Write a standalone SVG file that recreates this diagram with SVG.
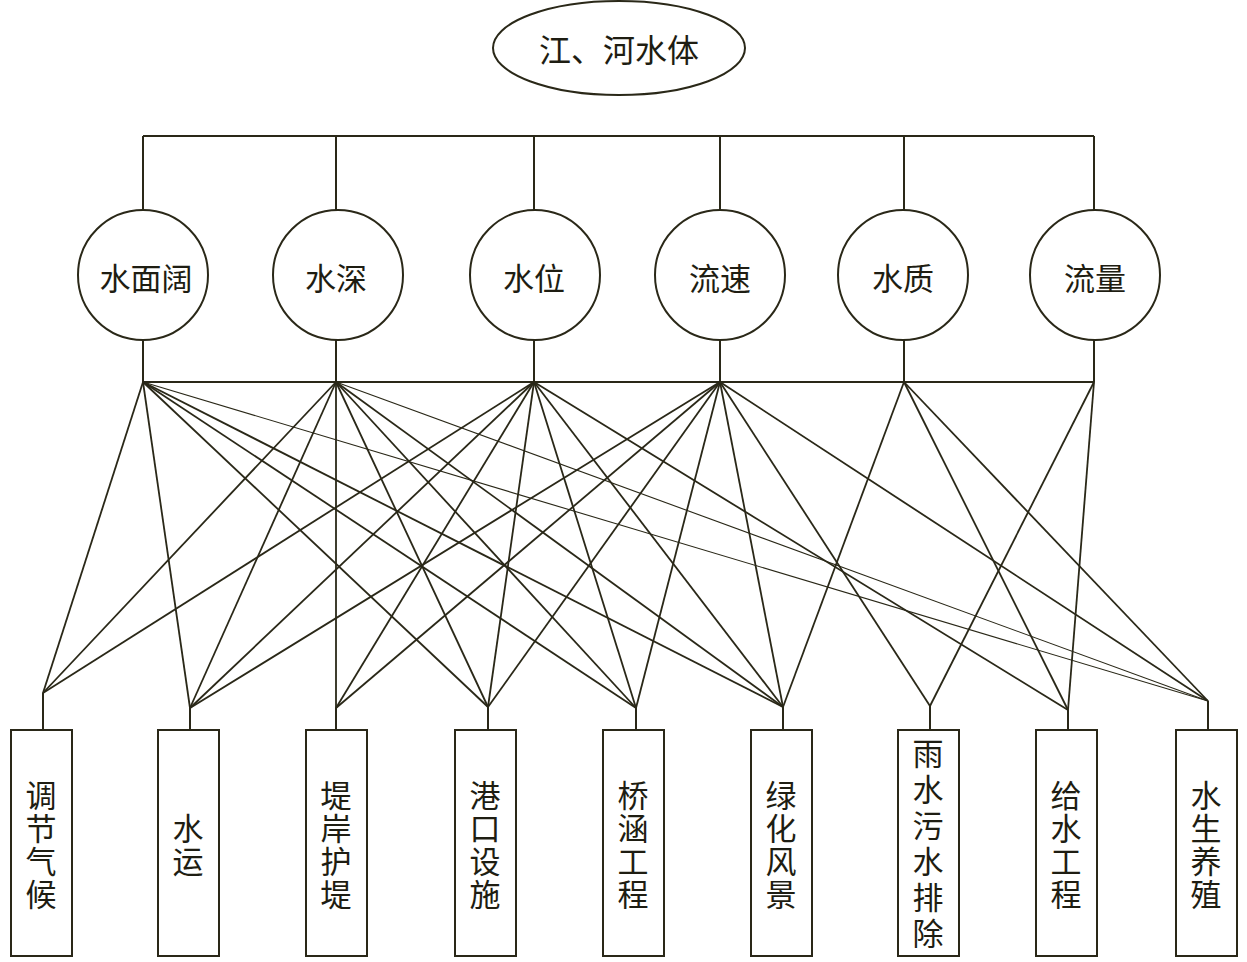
<svg xmlns="http://www.w3.org/2000/svg" width="1247" height="962" viewBox="0 0 1247 962">
<style>
.s{fill:none;stroke:#2a2818;stroke-width:2}
.l{stroke:#2a2818;stroke-width:1.8;fill:none}
.t{stroke:#2a2818;stroke-width:1.1;fill:none}
.n{fill:#fff;stroke:#2a2818;stroke-width:2}
.tx{font-family:"Noto Sans CJK SC","Noto Sans CJK JP",sans-serif;font-size:31px;fill:#1e1d12;text-anchor:middle;dominant-baseline:central}
.v{font-family:"Noto Sans CJK SC","Noto Sans CJK JP",sans-serif;font-size:31px;fill:#1e1d12;text-anchor:middle;writing-mode:vertical-rl;letter-spacing:2px}
</style>
<rect width="1247" height="962" fill="#fff"/>
<g id="connectors">
<path class="s" d="M143 136H1094M143 136V210M336 136V210M534 136V210M720 136V210M904 136V210M1094 136V210"/>
<path class="s" d="M143 340V382M336 340V382M534 340V382M720 340V382M904 340V382M1094 340V382M143 382H1094"/>
<path class="s" d="M43 693V730M190 708V730M336 708V730M488 707V730M636 708V730M783 707V730M930 706V730M1068 710V730M1208 701V730"/>
<g class="l">
<line x1="143" y1="382" x2="43" y2="693"/>
<line x1="143" y1="382" x2="190" y2="708"/>
<line x1="143" y1="382" x2="488" y2="707"/>
<line x1="143" y1="382" x2="636" y2="708"/>
<line x1="143" y1="382" x2="783" y2="707"/>
<line x1="336" y1="382" x2="43" y2="693"/>
<line x1="336" y1="382" x2="190" y2="708"/>
<line x1="336" y1="382" x2="336" y2="708"/>
<line x1="336" y1="382" x2="488" y2="707"/>
<line x1="336" y1="382" x2="636" y2="708"/>
<line x1="336" y1="382" x2="783" y2="707"/>
<line x1="534" y1="382" x2="43" y2="693"/>
<line x1="534" y1="382" x2="190" y2="708"/>
<line x1="534" y1="382" x2="336" y2="708"/>
<line x1="534" y1="382" x2="488" y2="707"/>
<line x1="534" y1="382" x2="636" y2="708"/>
<line x1="534" y1="382" x2="783" y2="707"/>
<line x1="534" y1="382" x2="1068" y2="710"/>
<line x1="720" y1="382" x2="190" y2="708"/>
<line x1="720" y1="382" x2="336" y2="708"/>
<line x1="720" y1="382" x2="488" y2="707"/>
<line x1="720" y1="382" x2="636" y2="708"/>
<line x1="720" y1="382" x2="783" y2="707"/>
<line x1="720" y1="382" x2="930" y2="706"/>
<line x1="720" y1="382" x2="1208" y2="701"/>
<line x1="904" y1="382" x2="783" y2="707"/>
<line x1="904" y1="382" x2="1068" y2="710"/>
<line x1="904" y1="382" x2="1208" y2="701"/>
<line x1="1094" y1="382" x2="930" y2="706"/>
<line x1="1094" y1="382" x2="1068" y2="710"/>
</g>
<g class="t">
<line x1="143" y1="382" x2="1208" y2="701"/>
<line x1="336" y1="382" x2="1208" y2="701"/>
</g>
</g>
<g id="root"><ellipse class="n" cx="619" cy="48" rx="126" ry="47"/><text class="tx" x="619" y="48" style="font-size:32px">江、河水体</text></g>
<g id="c1"><circle class="n" cx="143" cy="275" r="65"/><text class="tx" x="146" y="276">水面阔</text></g>
<g id="c2"><circle class="n" cx="338" cy="275" r="65"/><text class="tx" x="336" y="276">水深</text></g>
<g id="c3"><circle class="n" cx="535" cy="275" r="65"/><text class="tx" x="534" y="276">水位</text></g>
<g id="c4"><circle class="n" cx="720" cy="275" r="65"/><text class="tx" x="720" y="276">流速</text></g>
<g id="c5"><circle class="n" cx="903" cy="275" r="65"/><text class="tx" x="903" y="276">水质</text></g>
<g id="c6"><circle class="n" cx="1095" cy="275" r="65"/><text class="tx" x="1095" y="276">流量</text></g>
<g id="b1"><rect class="n" x="11" y="730" width="61" height="226"/><text class="v" x="41" y="846">调节气候</text></g>
<g id="b2"><rect class="n" x="158" y="730" width="61" height="226"/><text class="v" x="188" y="846">水运</text></g>
<g id="b3"><rect class="n" x="306" y="730" width="61" height="226"/><text class="v" x="336" y="846">堤岸护堤</text></g>
<g id="b4"><rect class="n" x="455" y="730" width="61" height="226"/><text class="v" x="485" y="846">港口设施</text></g>
<g id="b5"><rect class="n" x="603" y="730" width="61" height="226"/><text class="v" x="633" y="846">桥涵工程</text></g>
<g id="b6"><rect class="n" x="751" y="730" width="61" height="226"/><text class="v" x="781" y="846">绿化风景</text></g>
<g id="b7"><rect class="n" x="898" y="730" width="61" height="226"/><text class="v" x="928" y="846" style="letter-spacing:5px">雨水污水排除</text></g>
<g id="b8"><rect class="n" x="1036" y="730" width="61" height="226"/><text class="v" x="1066" y="846">给水工程</text></g>
<g id="b9"><rect class="n" x="1176" y="730" width="61" height="226"/><text class="v" x="1206" y="846">水生养殖</text></g>
</svg>
